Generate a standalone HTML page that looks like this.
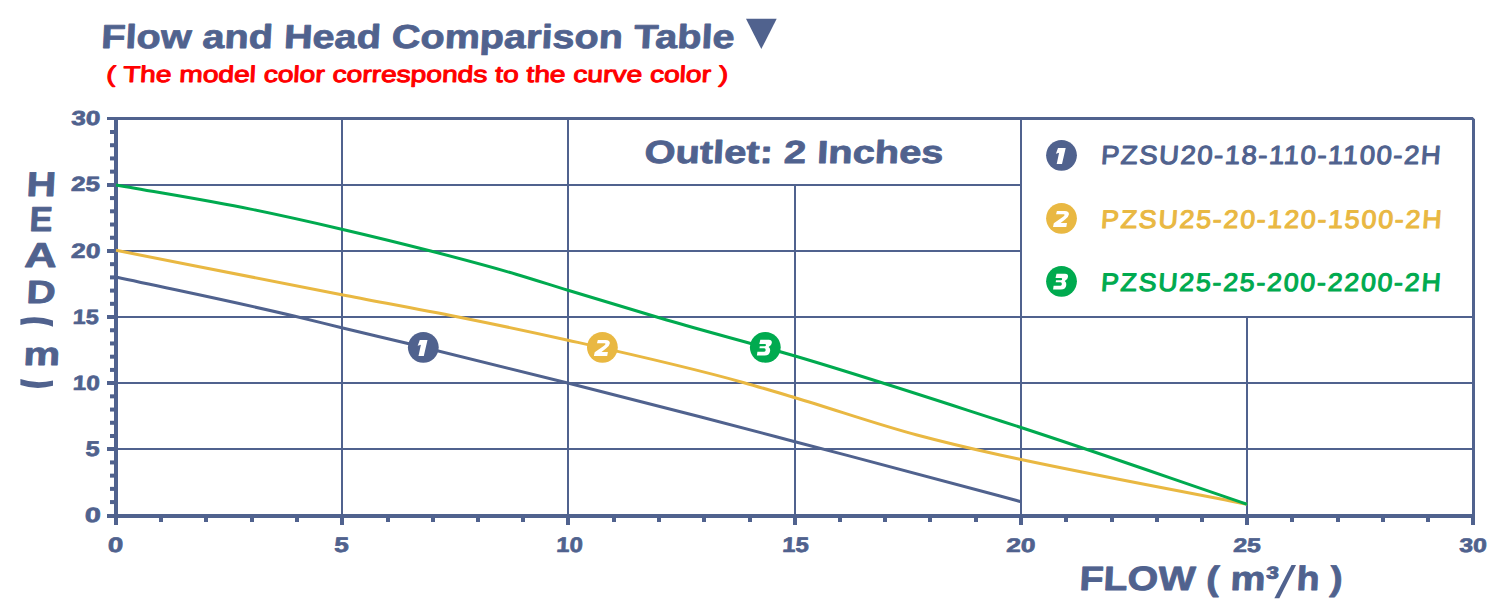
<!DOCTYPE html>
<html><head><meta charset="utf-8"><style>
html,body{margin:0;padding:0;background:#fff;width:1500px;height:600px;overflow:hidden;}
svg{display:block;}
</style></head><body>
<svg width="1500" height="600" viewBox="0 0 1500 600">
<rect x="341" y="118.0" width="2" height="398.0" fill="#50628E"/>
<rect x="567" y="118.0" width="2" height="398.0" fill="#50628E"/>
<rect x="794" y="185.0" width="2" height="331.0" fill="#50628E"/>
<rect x="1020" y="118.0" width="2" height="398.0" fill="#50628E"/>
<rect x="1246" y="317.0" width="2" height="199.0" fill="#50628E"/>
<rect x="116.0" y="448" width="1357.0" height="2" fill="#50628E"/>
<rect x="116.0" y="382" width="1357.0" height="2" fill="#50628E"/>
<rect x="116.0" y="316" width="1357.0" height="2" fill="#50628E"/>
<rect x="116.0" y="250" width="905.0" height="2" fill="#50628E"/>
<rect x="116.0" y="184" width="905.0" height="2" fill="#50628E"/>
<path d="M107,117 L1472.7,117 L1475,119.3 L1475,518 L1472,518 L1472,120 L107,120 Z" fill="#50628E"/>
<rect x="114" y="117" width="4" height="408" fill="#50628E"/>
<rect x="107" y="514" width="1368" height="4" fill="#50628E"/>
<rect x="110" y="500.08" width="5" height="4" fill="#50628E"/>
<rect x="110" y="486.86" width="5" height="4" fill="#50628E"/>
<rect x="110" y="473.64" width="5" height="4" fill="#50628E"/>
<rect x="110" y="460.43" width="5" height="4" fill="#50628E"/>
<rect x="107" y="447.00" width="8" height="4" fill="#50628E"/>
<rect x="110" y="433.99" width="5" height="4" fill="#50628E"/>
<rect x="110" y="420.77" width="5" height="4" fill="#50628E"/>
<rect x="110" y="407.56" width="5" height="4" fill="#50628E"/>
<rect x="110" y="394.34" width="5" height="4" fill="#50628E"/>
<rect x="107" y="381.00" width="8" height="4" fill="#50628E"/>
<rect x="110" y="367.91" width="5" height="4" fill="#50628E"/>
<rect x="110" y="354.69" width="5" height="4" fill="#50628E"/>
<rect x="110" y="341.47" width="5" height="4" fill="#50628E"/>
<rect x="110" y="328.25" width="5" height="4" fill="#50628E"/>
<rect x="107" y="315.00" width="8" height="4" fill="#50628E"/>
<rect x="110" y="301.82" width="5" height="4" fill="#50628E"/>
<rect x="110" y="288.60" width="5" height="4" fill="#50628E"/>
<rect x="110" y="275.39" width="5" height="4" fill="#50628E"/>
<rect x="110" y="262.17" width="5" height="4" fill="#50628E"/>
<rect x="107" y="249.00" width="8" height="4" fill="#50628E"/>
<rect x="110" y="235.74" width="5" height="4" fill="#50628E"/>
<rect x="110" y="222.52" width="5" height="4" fill="#50628E"/>
<rect x="110" y="209.30" width="5" height="4" fill="#50628E"/>
<rect x="110" y="196.09" width="5" height="4" fill="#50628E"/>
<rect x="107" y="183.00" width="8" height="4" fill="#50628E"/>
<rect x="110" y="169.65" width="5" height="4" fill="#50628E"/>
<rect x="110" y="156.43" width="5" height="4" fill="#50628E"/>
<rect x="110" y="143.22" width="5" height="4" fill="#50628E"/>
<rect x="110" y="130.00" width="5" height="4" fill="#50628E"/>
<rect x="114.00" y="516" width="4" height="9" fill="#50628E"/>
<rect x="159" y="516" width="4" height="6" fill="#50628E"/>
<rect x="204" y="516" width="4" height="6" fill="#50628E"/>
<rect x="250" y="516" width="4" height="6" fill="#50628E"/>
<rect x="295" y="516" width="4" height="6" fill="#50628E"/>
<rect x="340.00" y="516" width="4" height="9" fill="#50628E"/>
<rect x="386" y="516" width="4" height="6" fill="#50628E"/>
<rect x="431" y="516" width="4" height="6" fill="#50628E"/>
<rect x="476" y="516" width="4" height="6" fill="#50628E"/>
<rect x="521" y="516" width="4" height="6" fill="#50628E"/>
<rect x="566.00" y="516" width="4" height="9" fill="#50628E"/>
<rect x="612" y="516" width="4" height="6" fill="#50628E"/>
<rect x="657" y="516" width="4" height="6" fill="#50628E"/>
<rect x="702" y="516" width="4" height="6" fill="#50628E"/>
<rect x="748" y="516" width="4" height="6" fill="#50628E"/>
<rect x="793.00" y="516" width="4" height="9" fill="#50628E"/>
<rect x="838" y="516" width="4" height="6" fill="#50628E"/>
<rect x="883" y="516" width="4" height="6" fill="#50628E"/>
<rect x="928" y="516" width="4" height="6" fill="#50628E"/>
<rect x="974" y="516" width="4" height="6" fill="#50628E"/>
<rect x="1019.00" y="516" width="4" height="9" fill="#50628E"/>
<rect x="1064" y="516" width="4" height="6" fill="#50628E"/>
<rect x="1110" y="516" width="4" height="6" fill="#50628E"/>
<rect x="1155" y="516" width="4" height="6" fill="#50628E"/>
<rect x="1200" y="516" width="4" height="6" fill="#50628E"/>
<rect x="1245.00" y="516" width="4" height="9" fill="#50628E"/>
<rect x="1290" y="516" width="4" height="6" fill="#50628E"/>
<rect x="1336" y="516" width="4" height="6" fill="#50628E"/>
<rect x="1381" y="516" width="4" height="6" fill="#50628E"/>
<rect x="1426" y="516" width="4" height="6" fill="#50628E"/>
<rect x="1471.00" y="516" width="4" height="9" fill="#50628E"/>
<path d="M116.00,277.00 C175.67,290.10 235.33,302.04 295.00,316.30 C310.57,320.02 326.13,323.93 341.70,327.70 C364.47,333.21 387.23,338.51 410.00,344.00 C462.57,356.68 515.13,369.79 567.70,383.00 C611.80,394.08 655.90,405.25 700.00,416.70 C731.67,424.92 763.33,433.35 795.00,441.70 C863.33,459.72 931.67,477.35 1000.00,496.00 C1007.00,497.91 1014.00,499.83 1021.00,501.75" fill="none" stroke="#50628E" stroke-width="3" stroke-linejoin="round"/>
<path d="M116.00,250.30 C191.23,265.10 266.47,280.17 341.70,294.70 C380.57,302.21 419.43,309.16 458.30,317.00 C494.87,324.37 531.43,332.05 568.00,340.20 C626.67,353.28 685.33,366.14 744.00,382.70 C761.00,387.50 778.00,392.64 795.00,397.70 C835.67,409.80 876.33,424.13 917.00,435.00 C944.67,442.39 972.33,448.92 1000.00,455.00 C1007.00,456.54 1014.00,458.01 1021.00,459.50 C1096.33,475.54 1171.67,489.33 1247.00,504.25" fill="none" stroke="#E9B842" stroke-width="3" stroke-linejoin="round"/>
<path d="M116.00,184.90 C160.90,192.97 205.80,199.93 250.70,209.10 C281.03,215.30 311.37,222.13 341.70,229.20 C371.37,236.11 401.03,243.32 430.70,251.00 C459.13,258.36 487.57,265.80 516.00,274.20 C533.33,279.32 550.67,284.99 568.00,290.30 C600.90,300.39 633.80,310.39 666.70,320.00 C709.47,332.49 752.23,343.42 795.00,356.00 C863.33,376.09 931.67,398.63 1000.00,420.70 C1007.00,422.96 1014.00,425.22 1021.00,427.50 C1096.33,451.99 1171.67,478.67 1247.00,504.25" fill="none" stroke="#00AA4F" stroke-width="3" stroke-linejoin="round"/>
<circle cx="423.3" cy="347.3" r="15.4" fill="#50628E"/>
<path transform="translate(423.30,347.30)" d="M-3.5,-7.3 L4.2,-7.3 L0.5,8.7 L-4.8,8.7 L-2.4,-2.6 L-5.6,-1.5 Z" fill="#fff"/>
<circle cx="602.4" cy="347.3" r="15.4" fill="#E9B842"/>
<path transform="translate(602.40,347.30)" d="M-4.6,-7.3 L3.2,-7.3 Q7.8,-7.3 7.4,-3.8 Q7,-1.2 3.6,1.2 L-0.9,4.7 L5.5,4.7 L4.8,8.7 L-8.5,8.7 L-7.7,5 L1.6,-1.6 Q3,-2.7 3.1,-3.3 Q3.2,-4 2.2,-4 L-5.4,-4 Z" fill="#fff"/>
<circle cx="765.3" cy="347.3" r="15.4" fill="#00AA4F"/>
<path transform="translate(765.30,347.30)" d="M-5.0,-7.45 L3.5,-7.45 Q6.9,-7.45 6.5,-4.3 Q6.1,-1.4 3.3,-0.3 Q5.2,1.0 4.8,3.7 Q4.2,8.3 -0.6,8.3 L-8.4,8.3 L-7.9,4.4 L-1.0,4.4 Q0.2,4.4 0.35,3.0 Q0.5,1.0 -1.0,1.0 L-5.8,1.0 L-5.5,-1.0 L-0.7,-1.0 Q0.6,-1.0 0.7,-2.3 Q0.8,-3.4 -0.5,-3.4 L-6.0,-3.4 Z" fill="#fff"/>
<circle cx="1061.5" cy="155.3" r="15.4" fill="#50628E"/>
<path transform="translate(1061.50,155.30)" d="M-3.5,-7.3 L4.2,-7.3 L0.5,8.7 L-4.8,8.7 L-2.4,-2.6 L-5.6,-1.5 Z" fill="#fff"/>
<circle cx="1061.5" cy="218.3" r="15.4" fill="#E9B842"/>
<path transform="translate(1061.50,218.30)" d="M-4.6,-7.3 L3.2,-7.3 Q7.8,-7.3 7.4,-3.8 Q7,-1.2 3.6,1.2 L-0.9,4.7 L5.5,4.7 L4.8,8.7 L-8.5,8.7 L-7.7,5 L1.6,-1.6 Q3,-2.7 3.1,-3.3 Q3.2,-4 2.2,-4 L-5.4,-4 Z" fill="#fff"/>
<circle cx="1061.5" cy="281.3" r="15.4" fill="#00AA4F"/>
<path transform="translate(1061.50,281.30)" d="M-5.0,-7.45 L3.5,-7.45 Q6.9,-7.45 6.5,-4.3 Q6.1,-1.4 3.3,-0.3 Q5.2,1.0 4.8,3.7 Q4.2,8.3 -0.6,8.3 L-8.4,8.3 L-7.9,4.4 L-1.0,4.4 Q0.2,4.4 0.35,3.0 Q0.5,1.0 -1.0,1.0 L-5.8,1.0 L-5.5,-1.0 L-0.7,-1.0 Q0.6,-1.0 0.7,-2.3 Q0.8,-3.4 -0.5,-3.4 L-6.0,-3.4 Z" fill="#fff"/>
<text transform="translate(100.80,48.00) skewX(-3.0)" font-family="'Liberation Sans', sans-serif" font-weight="bold" font-size="33.2" fill="#50628E" text-anchor="start" textLength="633.2" lengthAdjust="spacingAndGlyphs" stroke="#50628E" stroke-width="0.80" stroke-linejoin="round">Flow and Head Comparison Table</text>
<text transform="translate(106.00,81.80) skewX(-3.0)" font-family="'Liberation Sans', sans-serif" font-weight="normal" font-size="22.7" fill="#FF0000" text-anchor="start" textLength="621.8" lengthAdjust="spacingAndGlyphs" stroke="#FF0000" stroke-width="1.00" stroke-linejoin="round">( The model color corresponds to the curve color )</text>
<text transform="translate(644.00,163.00) skewX(-3.0)" font-family="'Liberation Sans', sans-serif" font-weight="bold" font-size="31.9" fill="#50628E" text-anchor="start" textLength="299.0" lengthAdjust="spacingAndGlyphs" stroke="#50628E" stroke-width="0.80" stroke-linejoin="round">Outlet: 2 Inches</text>
<text transform="translate(1100.50,164.00) skewX(-4.0) scale(1.050,1)" font-family="'Liberation Sans', sans-serif" font-weight="normal" font-size="26.2" fill="#50628E" text-anchor="start" textLength="323.5" lengthAdjust="spacing" stroke="#50628E" stroke-width="1.10" stroke-linejoin="round">PZSU20-18-110-1100-2H</text>
<text transform="translate(1100.50,227.50) skewX(-4.0) scale(1.050,1)" font-family="'Liberation Sans', sans-serif" font-weight="normal" font-size="25.5" fill="#E9B842" text-anchor="start" textLength="324.3" lengthAdjust="spacing" stroke="#E9B842" stroke-width="1.10" stroke-linejoin="round">PZSU25-20-120-1500-2H</text>
<text transform="translate(1100.50,290.70) skewX(-4.0) scale(1.050,1)" font-family="'Liberation Sans', sans-serif" font-weight="normal" font-size="25.4" fill="#00AA4F" text-anchor="start" textLength="323.5" lengthAdjust="spacing" stroke="#00AA4F" stroke-width="1.10" stroke-linejoin="round">PZSU25-25-200-2200-2H</text>
<text transform="translate(107.60,551.80) skewX(-3.0)" font-family="'Liberation Sans', sans-serif" font-weight="bold" font-size="20.9" fill="#50628E" text-anchor="start" textLength="15.4" lengthAdjust="spacingAndGlyphs" stroke="#50628E" stroke-width="0.70" stroke-linejoin="round">0</text>
<text transform="translate(334.00,552.00) skewX(-3.0)" font-family="'Liberation Sans', sans-serif" font-weight="bold" font-size="21.0" fill="#50628E" text-anchor="start" textLength="14.5" lengthAdjust="spacingAndGlyphs" stroke="#50628E" stroke-width="0.70" stroke-linejoin="round">5</text>
<text transform="translate(556.00,552.00) skewX(-3.0)" font-family="'Liberation Sans', sans-serif" font-weight="bold" font-size="21.0" fill="#50628E" text-anchor="start" textLength="26.5" lengthAdjust="spacingAndGlyphs" stroke="#50628E" stroke-width="0.70" stroke-linejoin="round">10</text>
<text transform="translate(782.00,552.00) skewX(-3.0)" font-family="'Liberation Sans', sans-serif" font-weight="bold" font-size="21.0" fill="#50628E" text-anchor="start" textLength="26.5" lengthAdjust="spacingAndGlyphs" stroke="#50628E" stroke-width="0.70" stroke-linejoin="round">15</text>
<text transform="translate(1006.00,552.00) skewX(-3.0)" font-family="'Liberation Sans', sans-serif" font-weight="bold" font-size="19.7" fill="#50628E" text-anchor="start" textLength="29.2" lengthAdjust="spacingAndGlyphs" stroke="#50628E" stroke-width="0.70" stroke-linejoin="round">20</text>
<text transform="translate(1233.00,552.00) skewX(-3.0)" font-family="'Liberation Sans', sans-serif" font-weight="bold" font-size="19.7" fill="#50628E" text-anchor="start" textLength="27.5" lengthAdjust="spacingAndGlyphs" stroke="#50628E" stroke-width="0.70" stroke-linejoin="round">25</text>
<text transform="translate(1459.00,552.00) skewX(-3.0)" font-family="'Liberation Sans', sans-serif" font-weight="bold" font-size="19.7" fill="#50628E" text-anchor="start" textLength="27.5" lengthAdjust="spacingAndGlyphs" stroke="#50628E" stroke-width="0.70" stroke-linejoin="round">30</text>
<text transform="translate(84.50,522.10) skewX(-3.0)" font-family="'Liberation Sans', sans-serif" font-weight="bold" font-size="20.5" fill="#50628E" text-anchor="start" textLength="16.0" lengthAdjust="spacingAndGlyphs" stroke="#50628E" stroke-width="0.70" stroke-linejoin="round">0</text>
<text transform="translate(85.20,455.55) skewX(-3.0)" font-family="'Liberation Sans', sans-serif" font-weight="bold" font-size="21.4" fill="#50628E" text-anchor="start" textLength="14.1" lengthAdjust="spacingAndGlyphs" stroke="#50628E" stroke-width="0.70" stroke-linejoin="round">5</text>
<text transform="translate(72.50,390.00) skewX(-3.0)" font-family="'Liberation Sans', sans-serif" font-weight="bold" font-size="20.6" fill="#50628E" text-anchor="start" textLength="27.0" lengthAdjust="spacingAndGlyphs" stroke="#50628E" stroke-width="0.70" stroke-linejoin="round">10</text>
<text transform="translate(72.50,324.00) skewX(-3.0)" font-family="'Liberation Sans', sans-serif" font-weight="bold" font-size="20.6" fill="#50628E" text-anchor="start" textLength="26.0" lengthAdjust="spacingAndGlyphs" stroke="#50628E" stroke-width="0.70" stroke-linejoin="round">15</text>
<text transform="translate(70.80,258.40) skewX(-3.0)" font-family="'Liberation Sans', sans-serif" font-weight="bold" font-size="20.8" fill="#50628E" text-anchor="start" textLength="29.2" lengthAdjust="spacingAndGlyphs" stroke="#50628E" stroke-width="0.70" stroke-linejoin="round">20</text>
<text transform="translate(70.80,191.30) skewX(-3.0)" font-family="'Liberation Sans', sans-serif" font-weight="bold" font-size="20.6" fill="#50628E" text-anchor="start" textLength="28.9" lengthAdjust="spacingAndGlyphs" stroke="#50628E" stroke-width="0.70" stroke-linejoin="round">25</text>
<text transform="translate(71.00,124.50) skewX(-3.0)" font-family="'Liberation Sans', sans-serif" font-weight="bold" font-size="20.2" fill="#50628E" text-anchor="start" textLength="29.0" lengthAdjust="spacingAndGlyphs" stroke="#50628E" stroke-width="0.70" stroke-linejoin="round">30</text>
<text transform="translate(26.00,196.00) skewX(-3.0) scale(1.188,1)" font-family="'Liberation Sans', sans-serif" font-weight="bold" font-size="34.5" fill="#50628E" text-anchor="start" stroke="#50628E" stroke-width="0.80" stroke-linejoin="round">H</text>
<text transform="translate(29.00,231.00) skewX(-3.0) scale(0.999,1)" font-family="'Liberation Sans', sans-serif" font-weight="bold" font-size="34.5" fill="#50628E" text-anchor="start" stroke="#50628E" stroke-width="0.80" stroke-linejoin="round">E</text>
<text transform="translate(24.00,267.00) skewX(-3.0) scale(1.300,1)" font-family="'Liberation Sans', sans-serif" font-weight="bold" font-size="34.5" fill="#50628E" text-anchor="start" stroke="#50628E" stroke-width="0.80" stroke-linejoin="round">A</text>
<text transform="translate(26.00,302.50) skewX(-3.0) scale(1.262,1)" font-family="'Liberation Sans', sans-serif" font-weight="bold" font-size="32.0" fill="#50628E" text-anchor="start" stroke="#50628E" stroke-width="0.80" stroke-linejoin="round">D</text>
<text transform="translate(23.00,364.50) skewX(-3.0) scale(1.285,1)" font-family="'Liberation Sans', sans-serif" font-weight="bold" font-size="32.1" fill="#50628E" text-anchor="start" stroke="#50628E" stroke-width="0.80" stroke-linejoin="round">m</text>
<text transform="translate(1079.00,589.90) skewX(-3.0)" font-family="'Liberation Sans', sans-serif" font-weight="bold" font-size="33.7" fill="#50628E" text-anchor="start" textLength="199.0" lengthAdjust="spacingAndGlyphs" stroke="#50628E" stroke-width="0.80" stroke-linejoin="round">FLOW ( m&#179;</text>
<text transform="translate(1296.00,590.30) skewX(-3.0)" font-family="'Liberation Sans', sans-serif" font-weight="bold" font-size="33.9" fill="#50628E" text-anchor="start" textLength="46.2" lengthAdjust="spacingAndGlyphs" stroke="#50628E" stroke-width="0.80" stroke-linejoin="round">h )</text>
<polygon points="746,18.8 776.7,18.8 761.3,49" fill="#50628E"/>
<polygon points="1274.4,598.3 1279.3,598.3 1296.1,565 1291.5,565" fill="#50628E"/>
<path d="M20.4,319.2 Q36.5,314.9 53,320.6 L53,326.7 Q36.5,320.2 20.4,324.9 Z" fill="#50628E"/>
<path d="M20.4,379.1 Q36.5,384.6 53,380.5 L53,385.8 Q36.5,390.4 20.4,385 Z" fill="#50628E"/>
</svg>
</body></html>
